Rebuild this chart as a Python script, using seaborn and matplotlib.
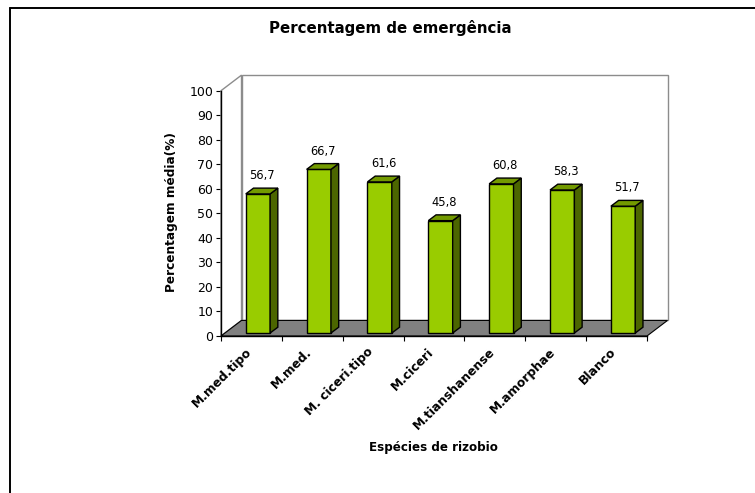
import numpy as np
import pandas as pd
import matplotlib
matplotlib.use("Agg")
import matplotlib.pyplot as plt
import seaborn as sns
from matplotlib.patches import Polygon
from matplotlib.transforms import ScaledTranslation
from matplotlib.lines import Line2D

# ---- data ----
categories = ["M.med.tipo", "M.med.", "M. ciceri.tipo", "M.ciceri",
              "M.tianshanense", "M.amorphae", "Blanco"]
values = [56.7, 66.7, 61.6, 45.8, 60.8, 58.3, 51.7]
value_labels = ["56,7", "66,7", "61,6", "45,8", "60,8", "58,3", "51,7"]
y_ticks = [0, 10, 20, 30, 40, 50, 60, 70, 80, 90, 100]
title = "Percentagem de emergência"
y_label = "Percentagem média(%)"
x_label = "Espécies de rizobio"

# ---- style ----
sns.set_style("white")
plt.rcParams["font.family"] = ["DejaVu Sans"]
plt.rcParams["text.color"] = "black"
plt.rcParams["axes.labelcolor"] = "black"
plt.rcParams["xtick.color"] = "black"
plt.rcParams["ytick.color"] = "black"

W, H = 755, 493
fig = plt.figure(figsize=(W / 100, H / 100), dpi=100)
fig.patch.set_facecolor("white")

# front plane of the 3D box (pixels)
px_left, px_right, px_bottom, px_top = 221, 647, 336, 90.7
ax = fig.add_axes([px_left / W, 1 - px_bottom / H,
                   (px_right - px_left) / W, (px_bottom - px_top) / H])

df = pd.DataFrame({"cat": categories, "val": values})
sns.barplot(data=df, x="cat", y="val", ax=ax, width=0.40, color="#99CC00",
            saturation=1, edgecolor="black", linewidth=1.0, zorder=3)

ax.set_xlim(-0.5, 6.5)
ax.set_ylim(0, 100)

# depth of the box (data units)
DX, DY = 0.337, 6.35
wall_kw = dict(clip_on=False, transform=ax.transData)
# back wall
ax.add_patch(Polygon([(-0.5 + DX, DY), (6.5 + DX, DY), (6.5 + DX, 100 + DY),
                      (-0.5 + DX, 100 + DY)], closed=True, facecolor="white",
                     edgecolor="#8c8c8c", linewidth=1.0, zorder=0.5, **wall_kw))
# left side wall
ax.add_patch(Polygon([(-0.5, 0), (-0.5 + DX, DY), (-0.5 + DX, 100 + DY),
                      (-0.5, 100)], closed=True, facecolor="white",
                     edgecolor="#8c8c8c", linewidth=1.0, zorder=0.6, **wall_kw))
# floor
ax.add_patch(Polygon([(-0.5, 0), (6.5, 0), (6.5 + DX, DY), (-0.5 + DX, DY)],
                     closed=True, facecolor="#808080", edgecolor="black",
                     linewidth=0.8, zorder=0.7, **wall_kw))

# shift bars into the middle of the depth and add 3D faces
shift = ScaledTranslation(6.5 / 100, 3 / 100, fig.dpi_scale_trans)
BDX, BDY = 0.127, 2.36
bars = list(ax.patches)[:len(values)]
for p, lab in zip(bars, value_labels):
    p.set_transform(ax.transData + shift)
    p.set_clip_on(False)
    x0 = p.get_x()
    w = p.get_width()
    v = p.get_height()
    x1 = x0 + w
    top = Polygon([(x0, v), (x1, v), (x1 + BDX, v + BDY), (x0 + BDX, v + BDY)],
                  closed=True, facecolor="#739A00", edgecolor="black",
                  linewidth=1.0, zorder=3, clip_on=False,
                  transform=ax.transData + shift)
    side = Polygon([(x1, 0), (x1 + BDX, BDY), (x1 + BDX, v + BDY), (x1, v)],
                   closed=True, facecolor="#4C6600", edgecolor="black",
                   linewidth=1.0, zorder=3, clip_on=False,
                   transform=ax.transData + shift)
    ax.add_patch(side)
    ax.add_patch(top)
    ax.annotate(lab, xy=(x0 + w / 2 + BDX / 2, v + BDY),
                xytext=(6.5 * 0.72, 12 * 0.72), textcoords="offset points",
                ha="center", va="baseline", fontsize=8.3, color="black",
                annotation_clip=False)

# spines
for s in ["top", "right"]:
    ax.spines[s].set_visible(False)
for s in ["left", "bottom"]:
    ax.spines[s].set_color("black")
    ax.spines[s].set_linewidth(1.0)
    ax.spines[s].set_zorder(4)

# y axis
ax.set_yticks(y_ticks)
ax.set_yticklabels([str(t) for t in y_ticks])
ax.tick_params(axis="y", left=True, direction="out", length=3.5, width=0.8,
               pad=2, labelsize=9, colors="black")

# x axis: labels at centres, tick marks at category boundaries
ax.set_xticks(range(len(categories)))
ax.set_xticklabels(categories, rotation=45, ha="right", va="center",
                   rotation_mode="anchor", fontweight="bold", fontsize=8.8)
ax.set_xticks(np.arange(-0.5, len(categories), 1.0), minor=True)
ax.tick_params(axis="x", which="major", bottom=True, length=0, pad=10)
ax.tick_params(axis="x", which="minor", bottom=True, direction="out",
               length=3.6, width=0.8, color="black")
lab_shift = ScaledTranslation(-2 / 100, 0, fig.dpi_scale_trans)
for t in ax.get_xticklabels():
    t.set_transform(t.get_transform() + lab_shift)

ax.set_xlabel(x_label, fontweight="bold", fontsize=8.6, va="center")
ax.xaxis.set_label_coords((433 - px_left) / (px_right - px_left),
                          (px_bottom - 448) / (px_bottom - px_top))
ax.set_ylabel(y_label, fontweight="bold", fontsize=8.7, va="center")
ax.yaxis.set_label_coords((171 - px_left) / (px_right - px_left),
                          (px_bottom - 212) / (px_bottom - px_top))

ax.set_title(title, fontweight="bold", fontsize=10.8, va="baseline", pad=0,
             x=(390 - px_left) / (px_right - px_left),
             y=(px_bottom - 33) / (px_bottom - px_top))

# outer chart frame (only left & top visible in the crop)
fig.add_artist(Line2D([9.5 / W, 9.5 / W], [0, 1 - 7.5 / H],
                      transform=fig.transFigure, color="black", lw=1.4))
fig.add_artist(Line2D([9.5 / W, 1], [1 - 7.5 / H, 1 - 7.5 / H],
                      transform=fig.transFigure, color="black", lw=1.4))

fig.savefig("out.png", dpi=100)
